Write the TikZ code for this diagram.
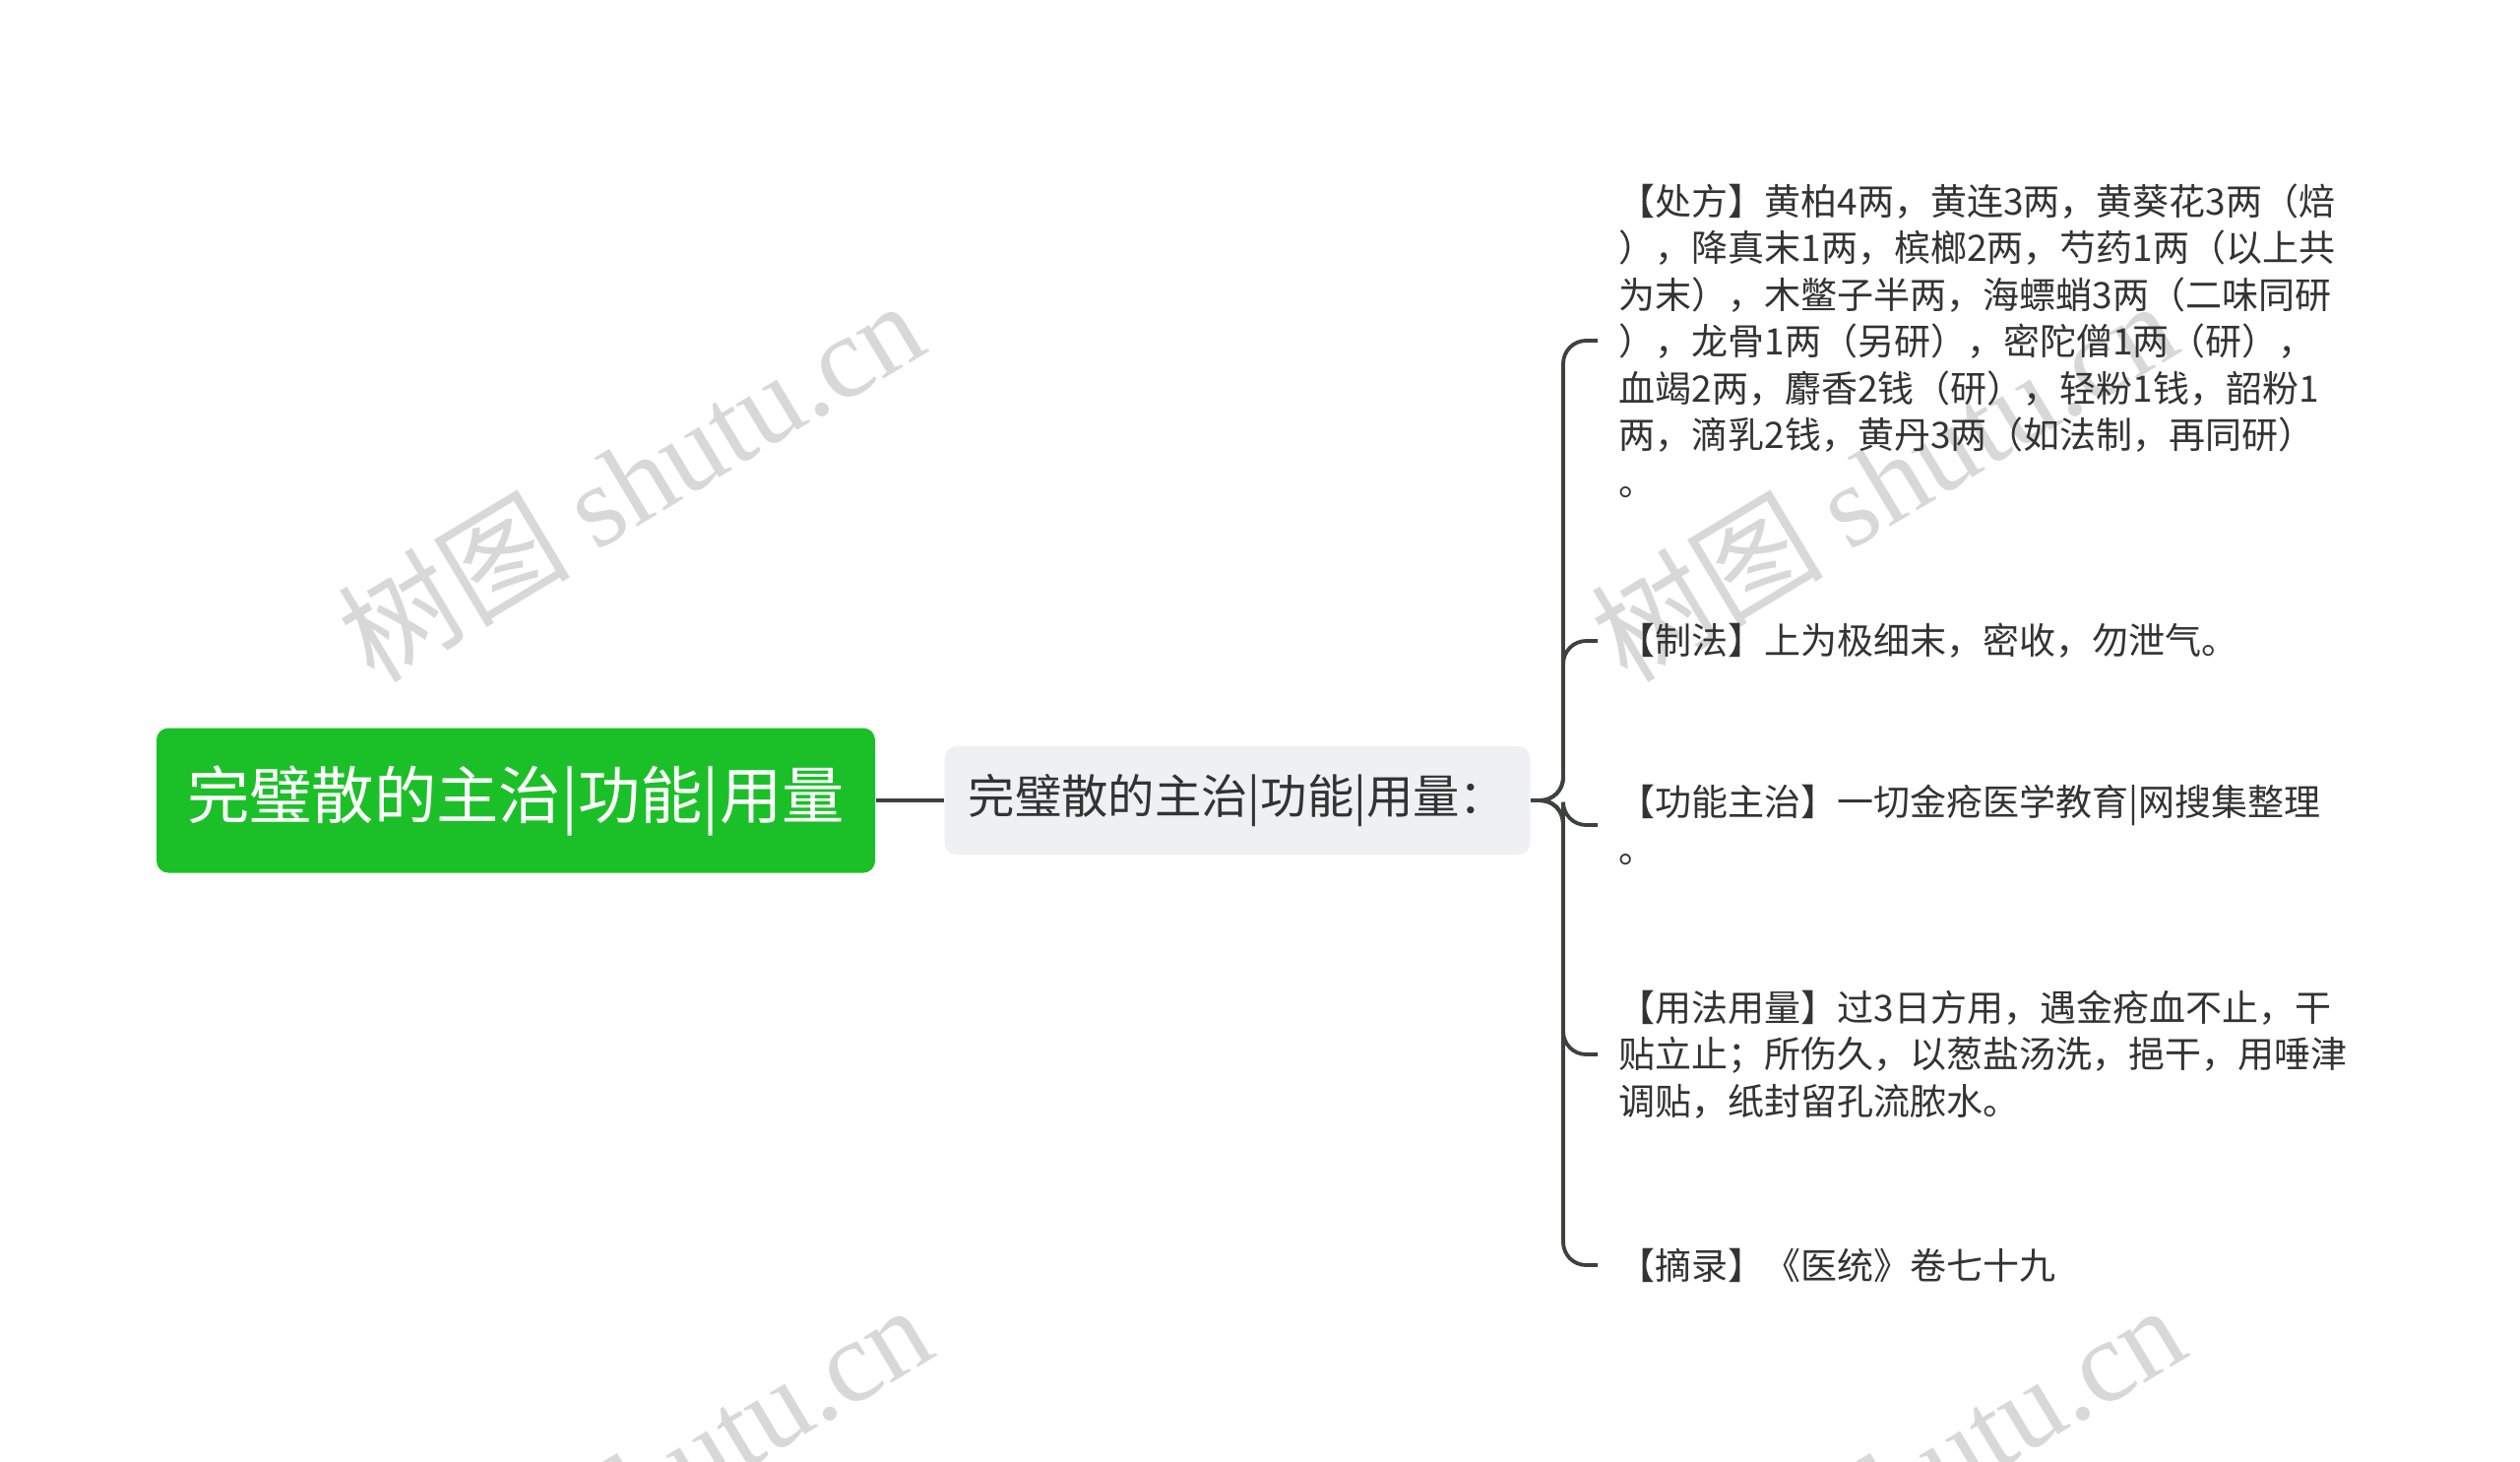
\documentclass[tikz,border=0pt]{standalone}
\usepackage{fontspec}
\setmainfont{Noto Sans CJK SC}
\newfontfamily\markfont{Liberation Serif}
\definecolor{rootfill}{RGB}{27, 192, 40}
\definecolor{subfill}{RGB}{238, 240, 243}
\definecolor{linkgray}{RGB}{61, 66, 63}
\definecolor{textgray}{RGB}{51, 51, 51}
\definecolor{markgray}{RGB}{216, 216, 216}
\tikzset{
    rootbox/.style={fill=rootfill, rounded corners=3.6pt, text=white,
        minimum width=219pt, minimum height=44.1pt,
        font=\fontsize{19}{22}\selectfont},
    subbox/.style={fill=subfill, rounded corners=3.6pt, text=textgray,
        minimum width=178.5pt, minimum height=33pt,
        font=\fontsize{14.2}{16}\selectfont},
    leafbox/.style={anchor=west, align=left, inner xsep=6.3pt,
        inner ysep=0pt, text=textgray,
        font=\fontsize{11.1}{14.25}\selectfont},
    branch/.style={draw=linkgray, line width=1.15pt, rounded corners=7pt},
    watermark/.style={anchor=base west, rotate=31, text=markgray,
        font=\fontsize{35.5}{40}\selectfont},
}

\begin{document}
\begin{tikzpicture}[x=0.3pt, y=-0.3pt]
    \fill[white] (0, 0) rectangle (2560, 1485);
    \useasboundingbox (0, 0) rectangle (2560, 1485);
    \foreach \mx/\my [count=\i] in {370/702, 1643/702, 378/1722, 1651/1722}
        \node[watermark] (mark\i) at (\mx, \my) {树图 {\markfont shutu.cn}};

    \node[rootbox] (root) at (524, 813) {完璧散的主治|功能|用量};
    \node[subbox] (summary) at (1257, 813) {完璧散的主治|功能|用量：};
    \coordinate (fork) at (1588, 813);

    \node[leafbox] (chufang) at (1623, 346)
        {【处方】黄柏4两，黄连3两，黄葵花3两（焙\\
        ），降真末1两，槟榔2两，芍药1两（以上共\\
        为末），木鳖子半两，海螵蛸3两（二味同研\\
        ），龙骨1两（另研），密陀僧1两（研），\\
        血竭2两，麝香2钱（研），轻粉1钱，韶粉1\\
        两，滴乳2钱，黄丹3两（如法制，再同研）\\
        。};
    \node[leafbox] (zhifa) at (1623, 651) {【制法】上为极细末，密收，勿泄气。};
    \node[leafbox] (gongneng) at (1623, 838)
        {【功能主治】一切金疮医学教育|网搜集整理\\。};
    \node[leafbox] (yongfa) at (1623, 1071)
        {【用法用量】过3日方用，遇金疮血不止，干\\
        贴立止；所伤久，以葱盐汤洗，挹干，用唾津\\
        调贴，纸封留孔流脓水。};
    \node[leafbox] (zhailu) at (1623, 1285) {【摘录】《医统》卷七十九};

    \draw[branch] (root.east) -- (summary.west);
    \foreach \leaf in {chufang, zhifa, gongneng, yongfa, zhailu}
        \draw[branch] (summary.east) -- (fork) |- (\leaf.west);
\end{tikzpicture}
\end{document}
